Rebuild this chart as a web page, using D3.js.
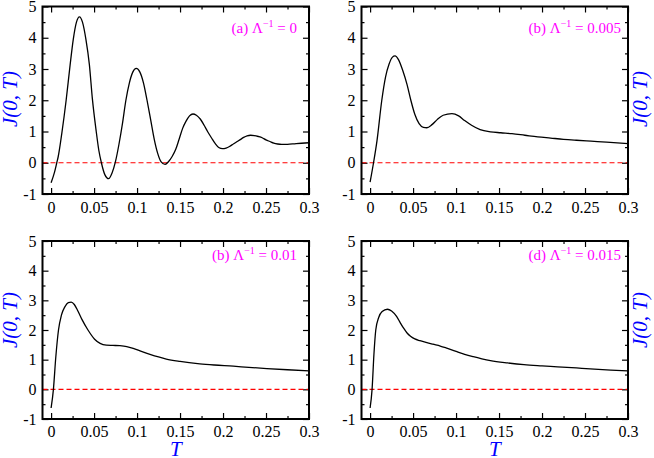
<!DOCTYPE html>
<html lang="en">
<head>
<meta charset="UTF-8">
<title>J(0, T)</title>
<style>
  body { margin: 0; background: #fff; }
  svg { display: block; font-family: "Liberation Serif", "Times New Roman", serif; }
  .frame { fill: none; stroke: #000; stroke-width: 2px; }
  .axis path { display: none; }
  .axis line { stroke: #000; stroke-width: 1.2px; }
  .axis text { font-size: 16px; fill: #000; font-family: "Liberation Serif", "Times New Roman", serif; }
  .curve { fill: none; stroke: #000; stroke-width: 1.3px; }
  .zero { stroke: #f00; stroke-width: 1.2px; stroke-dasharray: 5,3; }
  .lab { fill: #00f; font-style: italic; font-size: 21px; }
  .note { fill: #f0f; font-size: 15px; }
</style>
</head>
<body>
<svg id="chart" width="654" height="458"></svg>
<script src="https://cdn.jsdelivr.net/npm/d3@7"></script>
<script>
// tick values
const xTicks = [0, 0.05, 0.1, 0.15, 0.2, 0.25, 0.3];
const xMinor = [0.025, 0.075, 0.125, 0.175, 0.225, 0.275];
const yTicks = [-1, 0, 1, 2, 3, 4, 5];
const yMinor = [-0.5, 0.5, 1.5, 2.5, 3.5, 4.5];

// panel labels
const notes = ["(a) ", "(b) ", "(b) ", "(d) "];
const lambdas = ["0", "0.005", "0.01", "0.015"];

// (a) Lambda^-1 = 0
const tA = [0, 0.004, 0.0066, 0.0083, 0.0125, 0.0175, 0.022, 0.0258, 0.0295, 0.033,
  0.0365, 0.0405, 0.0445, 0.048, 0.0525, 0.0555, 0.0585, 0.0625, 0.0669,
  0.0709, 0.075, 0.079, 0.083, 0.087, 0.091, 0.095, 0.0991,
  0.1033, 0.1075, 0.1116, 0.116, 0.12, 0.124, 0.128, 0.1326,
  0.1367, 0.1408, 0.145, 0.149, 0.153, 0.157, 0.161, 0.165,
  0.169, 0.1735, 0.178, 0.182, 0.1865, 0.191, 0.195, 0.1995,
  0.2035, 0.2075, 0.212, 0.216, 0.22, 0.224, 0.228, 0.232,
  0.2365, 0.241, 0.2455, 0.25, 0.2545, 0.259, 0.2635, 0.268,
  0.275, 0.285, 0.3];
const jA = [-0.64, -0.3, 0.0, 0.2, 0.95, 2.0, 3.1, 3.95, 4.5, 4.67,
  4.5, 3.95, 3.15, 2.05, 1.0, 0.4, 0.0, -0.38, -0.51,
  -0.33, 0.05, 0.6, 1.25, 2.0, 2.55, 2.9, 3.02,
  2.9, 2.55, 2.0, 1.35, 0.75, 0.3, 0.03, -0.05,
  0.04, 0.2, 0.43, 0.76, 1.1, 1.33, 1.5, 1.56,
  1.52, 1.4, 1.2, 1.0, 0.8, 0.61, 0.49, 0.45,
  0.47, 0.52, 0.6, 0.67, 0.74, 0.81, 0.86, 0.88,
  0.87, 0.84, 0.8, 0.73, 0.68, 0.63, 0.6, 0.585,
  0.59, 0.615, 0.64];

// (b) Lambda^-1 = 0.005
const tB = [0, 0.004, 0.008, 0.0136, 0.018, 0.022, 0.026, 0.029, 0.033, 0.038, 0.043,
  0.0474, 0.052, 0.057, 0.062, 0.066, 0.072, 0.078, 0.085, 0.0952, 0.103, 0.11,
  0.118, 0.128, 0.14, 0.152, 0.165, 0.18, 0.195, 0.21, 0.225, 0.24, 0.257, 0.275, 0.3];
const jB = [-0.62, 0.0, 0.7, 2.0, 2.75, 3.15, 3.38, 3.42, 3.3, 2.95, 2.5,
  2.0, 1.55, 1.25, 1.13, 1.12, 1.22, 1.38, 1.52, 1.57, 1.5, 1.35,
  1.2, 1.06, 0.99, 0.96, 0.93, 0.88, 0.83, 0.79, 0.75, 0.72, 0.69, 0.66, 0.61];

// (c) Lambda^-1 = 0.01
const tC = [0, 0.0027, 0.0055, 0.0086, 0.012, 0.016, 0.02, 0.0234, 0.027, 0.031, 0.036,
  0.0429, 0.0506, 0.057, 0.0643, 0.072, 0.08, 0.088, 0.0955, 0.105, 0.115, 0.125,
  0.134, 0.15, 0.173, 0.19, 0.212, 0.23, 0.251, 0.275, 0.3];
const jC = [-0.63, 0.0, 1.1, 2.0, 2.5, 2.78, 2.92, 2.94, 2.86, 2.65, 2.35,
  2.0, 1.69, 1.55, 1.49, 1.48, 1.47, 1.44, 1.38, 1.28, 1.18, 1.09,
  1.02, 0.94, 0.86, 0.82, 0.78, 0.74, 0.70, 0.66, 0.62];

// (d) Lambda^-1 = 0.015
const tD = [0, 0.0023, 0.0045, 0.0066, 0.01, 0.014, 0.0202, 0.025, 0.031, 0.035, 0.039,
  0.043, 0.047, 0.052, 0.058, 0.065, 0.073, 0.0816, 0.09, 0.101, 0.11, 0.12, 0.13,
  0.14, 0.16, 0.179, 0.2, 0.218, 0.24, 0.256, 0.28, 0.3];
const jD = [-0.63, 0.0, 1.2, 2.0, 2.42, 2.62, 2.70, 2.64, 2.45, 2.25, 2.06,
  1.9, 1.79, 1.7, 1.64, 1.58, 1.52, 1.46, 1.38, 1.27, 1.18, 1.10, 1.03,
  0.97, 0.89, 0.83, 0.79, 0.76, 0.72, 0.69, 0.65, 0.62];

const series = [[tA, jA], [tB, jB], [tC, jC], [tD, jD]];

// panel boxes: column x-range, row y-range
const cols = [[42.5, 309], [361.5, 628]];
const rows = [[6.5, 194], [241, 419]];

const svg = d3.select("#chart");
const fmt = d => String(d);

series.forEach(([ts, js], i) => {
  const col = i % 2, row = Math.floor(i / 2);
  const [x0, x1] = cols[col];
  const [y0, y1] = rows[row];

  const x = d3.scaleLinear().domain([-0.01, 0.3]).range([x0, x1]);
  const y = d3.scaleLinear().domain([-1, 5]).range([y1, y0]);

  const g = svg.append("g");

  // ticks pointing inward on all four sides
  g.append("g").attr("class", "axis").attr("transform", `translate(0,${y1})`)
    .call(d3.axisBottom(x).tickValues(xTicks).tickFormat(fmt).tickSizeInner(-6).tickSizeOuter(0).tickPadding(row ? 7 : 7.8));
  g.append("g").attr("class", "axis").attr("transform", `translate(0,${y1})`)
    .call(d3.axisBottom(x).tickValues(xMinor).tickFormat("").tickSizeInner(-3).tickSizeOuter(0));
  g.append("g").attr("class", "axis").attr("transform", `translate(0,${y0})`)
    .call(d3.axisTop(x).tickValues(xTicks).tickFormat("").tickSizeInner(-6).tickSizeOuter(0));
  g.append("g").attr("class", "axis").attr("transform", `translate(0,${y0})`)
    .call(d3.axisTop(x).tickValues(xMinor).tickFormat("").tickSizeInner(-3).tickSizeOuter(0));

  g.append("g").attr("class", "axis").attr("transform", `translate(${x0},0)`)
    .call(d3.axisLeft(y).tickValues(yTicks).tickFormat(fmt).tickSizeInner(-6).tickSizeOuter(0).tickPadding(6));
  g.append("g").attr("class", "axis").attr("transform", `translate(${x0},0)`)
    .call(d3.axisLeft(y).tickValues(yMinor).tickFormat("").tickSizeInner(-3).tickSizeOuter(0));
  g.append("g").attr("class", "axis").attr("transform", `translate(${x1},0)`)
    .call(d3.axisRight(y).tickValues(yTicks).tickFormat("").tickSizeInner(-6).tickSizeOuter(0));
  g.append("g").attr("class", "axis").attr("transform", `translate(${x1},0)`)
    .call(d3.axisRight(y).tickValues(yMinor).tickFormat("").tickSizeInner(-3).tickSizeOuter(0));

  // zero reference line
  g.append("line").attr("class", "zero")
    .attr("x1", x0).attr("x2", x1)
    .attr("y1", y(0)).attr("y2", y(0));

  // curve
  const line = d3.line().x(d => x(d[0])).y(d => y(d[1])).curve(d3.curveMonotoneX);
  g.append("path").attr("class", "curve").attr("d", line(ts.map((t, k) => [t, js[k]])));

  // frame
  g.append("rect").attr("class", "frame")
    .attr("x", x0).attr("y", y0).attr("width", x1 - x0).attr("height", y1 - y0);

  // panel annotation
  const note = g.append("text").attr("class", "note")
    .attr("x", x1 - 12 + (col ? 5 : 0)).attr("y", row ? 260 : 33)
    .attr("text-anchor", "end");
  note.append("tspan").text(notes[i] + "Λ");
  note.append("tspan").attr("dy", -6).style("font-size", "10px").text("−1");
  note.append("tspan").attr("dy", 6).text(" = " + lambdas[i]);

  // y axis label
  const lx = col ? 647 : 17;
  const ly = row ? 320 : 99;
  g.append("text").attr("class", "lab")
    .attr("text-anchor", "middle")
    .attr("transform", `translate(${lx},${ly}) rotate(-90)`)
    .text("J(0, T)");

  // x axis label (bottom row only)
  if (row === 1) {
    g.append("text").attr("class", "lab")
      .attr("text-anchor", "middle")
      .attr("x", (x0 + x1) / 2).attr("y", 456)
      .text("T");
  }
});
</script>
</body>
</html>
